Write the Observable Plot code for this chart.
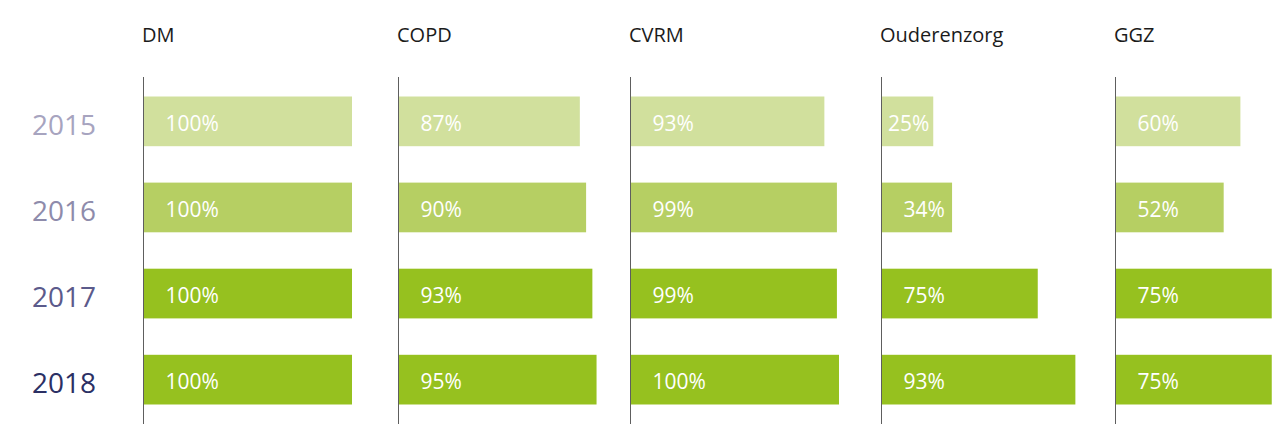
<!DOCTYPE html>
<html>
<head>
<meta charset="utf-8">
<script src="https://cdn.jsdelivr.net/npm/d3@7"></script>
<script src="https://cdn.jsdelivr.net/npm/@observablehq/plot@0.6"></script>
<style>
  html, body { margin: 0; padding: 0; background: #fff; }
  #chart { display: flex; width: 1288px; height: 445px; overflow: hidden; }
  #chart svg { flex: none; max-width: none; display: block; }
</style>
</head>
<body>
<div id="chart"></div>
<script>
// ---- data ----
const categories = ["DM", "COPD", "CVRM", "Ouderenzorg", "GGZ"];
const years = ["2015", "2016", "2017", "2018"];
const dm = [100, 100, 100, 100];
const copd = [87, 90, 93, 95];
const cvrm = [93, 99, 99, 100];
const ouderenzorg = [25, 34, 75, 93];
const ggz = [60, 52, 75, 75];
const seriesValues = [dm, copd, cvrm, ouderenzorg, ggz];

// ---- styles ----
const barColor = {"2015": "#d1e09d", "2016": "#b6cf63", "2017": "#96c11f", "2018": "#96c11f"};
const yearColor = {"2015": "#a7a4bf", "2016": "#8e8bab", "2017": "#5b5a8b", "2018": "#2b2f64"};
const panelWidths = [392, 232, 251, 234, 179];
const panelLeft = [143, 6, 6, 6, 6];
const barSpan = 209; // pixels for 100%
const font = '"Open Sans", sans-serif';

const chart = document.getElementById("chart");

categories.forEach((cat, i) => {
  const rows = years.map((year, j) => ({category: cat, year, value: seriesValues[i][j]}));
  const ml = panelLeft[i];
  const marks = [
    Plot.barX(rows, {x: "value", y: "year", fill: d => barColor[d.year]}),
    Plot.ruleX([0], {stroke: "#5e5e5e", strokeWidth: 1}),
    Plot.text(rows.filter(d => d.value >= 30), {
      x: 0, y: "year", text: d => d.value + "%", textAnchor: "start",
      dx: 22, dy: 2, fill: "white", fontSize: 21, fontFamily: font
    }),
    Plot.text(rows.filter(d => d.value < 30), {
      x: 0, y: "year", text: d => d.value + "%", textAnchor: "start",
      dx: 6.5, dy: 2, fill: "white", fontSize: 21, fontFamily: font
    }),
    Plot.text([cat], {
      frameAnchor: "top-left", text: d => d, textAnchor: "start", lineAnchor: "bottom",
      dx: -1.5, dy: -35.3, fill: "#1b1b1b", fontSize: 20, fontFamily: font
    })
  ];
  if (i === 0) {
    marks.push(Plot.text(rows, {
      frameAnchor: "left", y: "year", text: "year", textAnchor: "end",
      dx: -47.5, dy: 4, fill: d => yearColor[d.year], fontSize: 28, fontFamily: font
    }));
  }
  const svg = Plot.plot({
    width: panelWidths[i],
    height: 445,
    marginTop: 77,
    marginBottom: 21,
    marginLeft: ml,
    marginRight: 0,
    style: {fontFamily: font, background: "#fff", overflow: "visible"},
    x: {domain: [0, 100], range: [ml, ml + barSpan], axis: null},
    y: {domain: years, paddingInner: 0.4228, paddingOuter: 0.2266, round: false, axis: null},
    color: {type: "identity"},
    marks
  });
  chart.appendChild(svg);
});
</script>
</body>
</html>
